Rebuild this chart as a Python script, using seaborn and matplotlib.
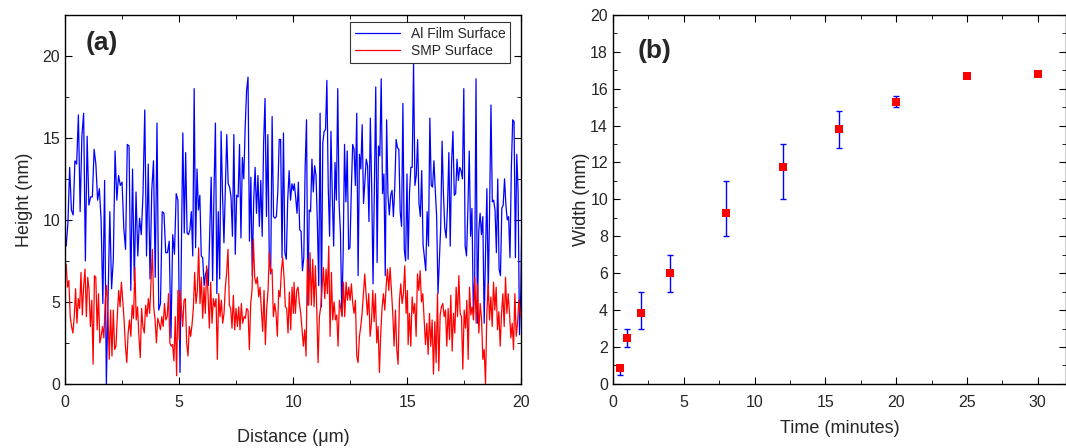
import numpy as np
import pandas as pd
import seaborn as sns
import matplotlib.pyplot as plt
from matplotlib.ticker import MultipleLocator

# ---- panel (a): surface height profiles in 4 pieces ----
# each piece: (start µm, end µm, heights in nm)
al_seg1 = [8.4, 9.8, 13.2, 10.6, 10.3, 13.6, 13.4, 16.4, 10.5, 15.1, 16.5, 7.5, 15.1, 10.9,
           11.4, 11.4, 14.3, 13.4, 11.2, 11.9, 10.0, 4.9, 12.4, 0.0, 5.1, 10.5, 5.8, 7.6, 14.2,
           11.2, 12.7, 12.1, 12.3, 9.5, 8.2, 14.6, 14.5, 5.7, 13.1, 6.3, 11.7, 7.8, 10.1, 9.1,
           11.6, 16.7, 7.8, 13.4, 6.4, 11.8, 13.6, 6.5, 15.9, 4.5, 4.9, 10.5, 10.4, 8.0, 8.0,
           8.7, 2.8, 9.1, 7.9, 11.6, 11.2]
al_seg2 = [0.7, 8.4, 15.3, 9.2, 14.1, 9.2, 9.1, 9.4, 10.5, 7.8, 18.0, 8.3, 13.1, 10.6, 11.5,
           7.8, 7.7, 6.0, 6.7, 7.0, 6.0, 9.4, 12.6, 6.3, 11.8, 15.9, 5.5, 10.5, 6.4, 15.4, 11.6,
           8.6, 12.0, 15.2, 12.2, 12.0, 11.4, 9.0, 15.2, 7.9, 11.5, 11.4, 14.6, 8.9, 13.8, 12.5,
           15.7, 17.9, 18.7, 8.7, 12.6, 6.6, 11.2, 13.2, 10.4, 12.7, 9.6, 12.4, 9.0, 14.7, 17.4,
           10.2, 15.2, 7.6, 6.7, 16.3, 10.2, 10.1, 10.2, 11.7, 14.9, 14.9, 7.7, 15.3, 8.0, 7.6,
           11.2, 13.0, 11.2, 12.2, 11.8]
al_seg3 = [12.2, 11.4, 10.4, 12.3, 9.4, 9.3, 6.9, 7.7, 13.2, 16.1, 4.8, 10.6, 10.5, 13.7, 11.7,
           13.3, 12.7, 9.8, 6.0, 16.5, 4.7, 14.7, 15.4, 15.5, 18.5, 12.0, 9.0, 15.4, 11.4, 8.4,
           13.5, 11.2, 18.0, 11.0, 9.2, 4.2, 8.0, 14.6, 11.1, 14.2, 8.2, 8.3, 11.8, 14.6, 14.3,
           12.1, 16.5, 6.6, 14.0, 13.1, 15.8, 11.0, 12.4, 13.7, 13.3, 9.9, 16.2, 12.0, 6.1, 12.2,
           18.1, 7.4, 14.5, 13.9, 18.6, 11.6, 12.8, 6.6, 16.1, 11.5, 10.3, 11.5, 11.8, 10.2, 12.0,
           14.9, 14.4, 14.3, 10.5, 9.6, 17.1, 8.2, 7.5, 12.8]
al_seg4 = [7.6, 11.6, 13.2, 13.2, 19.5, 12.1, 12.7, 14.9, 11.0, 10.2, 13.0, 8.5, 7.7, 6.9, 10.5,
           8.4, 16.2, 12.1, 12.0, 13.6, 11.8, 10.2, 5.5, 7.6, 9.6, 14.8, 11.6, 9.5, 8.9, 10.8,
           14.1, 8.4, 13.5, 15.4, 11.5, 11.6, 13.7, 12.4, 13.2, 13.0, 12.5, 18.0, 8.4, 7.8, 10.6,
           14.2, 9.0, 10.7, 4.5, 6.4, 18.6, 3.7, 9.3, 10.4, 9.1, 10.2, 3.7, 8.0, 11.9, 5.6, 10.6,
           17.0, 11.1, 11.2, 10.6, 8.0, 12.5, 7.0, 6.6, 10.7, 10.9, 12.5, 10.9, 10.0, 10.2, 7.7,
           13.1, 16.1, 16.0, 7.7, 14.0, 11.7, 3.0, 5.7, 11.7, 13.1]

smp_seg1 = [7.3, 5.9, 6.3, 4.1, 3.5, 3.1, 4.1, 5.8, 3.7, 5.2, 4.6, 6.8, 4.2, 6.0, 7.0, 4.1, 6.5,
            5.7, 3.5, 5.1, 1.2, 6.6, 6.5, 3.3, 5.5, 2.5, 2.9, 3.5, 2.8, 5.1, 6.0, 4.3, 1.5, 4.5,
            1.7, 4.5, 2.1, 2.3, 4.2, 5.7, 4.7, 6.2, 5.1, 3.9, 2.3, 1.3, 3.1, 3.9, 2.9, 4.8, 4.0,
            7.1, 3.9, 4.7, 2.9, 1.6, 4.6, 3.5, 3.1, 4.8, 4.1, 5.2, 4.3, 6.2, 8.2, 4.7, 3.9, 2.5,
            4.0, 3.7, 3.3, 4.1, 3.5, 4.9, 3.9, 4.1, 5.5, 2.5, 2.3, 2.4, 1.4, 4.1, 0.5, 5.7, 2.7]
smp_seg2 = [5.7, 4.7, 3.5, 5.1, 5.2, 2.5, 1.7, 3.5, 2.9, 3.6, 4.6, 6.8, 4.9, 5.7, 8.3, 4.9, 6.5,
            4.0, 5.9, 4.3, 7.2, 5.5, 3.4, 6.2, 3.7, 5.2, 4.7, 5.2, 1.5, 5.5, 4.1, 5.1, 3.7, 4.3,
            5.9, 6.8, 8.2, 4.8, 4.6, 3.4, 5.4, 3.3, 4.6, 3.5, 4.7, 3.3, 4.9, 3.7, 4.1, 4.0, 4.6,
            4.5, 2.1, 4.9, 5.7, 8.8, 6.5, 6.1, 6.5, 5.3, 5.9, 4.6, 3.2, 5.7, 2.4, 4.6, 5.7, 8.0,
            6.8, 7.0, 4.1, 4.9, 4.3, 2.9, 5.7, 5.3, 6.9, 7.7, 6.5, 4.7, 4.6, 3.1, 5.6, 3.3, 5.9,
            4.3]
smp_seg3 = [6.2, 4.3, 5.7, 5.9, 4.9, 4.3, 3.3, 2.3, 3.3, 1.7, 7.6, 4.8, 8.0, 4.8, 7.6, 4.7, 7.2,
            4.6, 1.3, 4.1, 4.7, 5.9, 7.1, 5.2, 7.0, 5.5, 8.4, 2.9, 6.8, 3.9, 5.0, 3.9, 4.2, 2.3,
            5.1, 4.6, 4.1, 6.2, 4.1, 6.2, 5.1, 5.9, 5.1, 6.1, 4.9, 4.3, 5.1, 1.7, 1.3, 2.9, 3.5,
            4.3, 5.5, 6.7, 5.5, 4.2, 5.5, 2.9, 3.7, 5.7, 3.8, 5.5, 2.5, 3.5, 0.7, 3.1, 4.7, 5.5,
            4.5, 5.9, 7.0, 5.7, 7.1, 5.7, 4.3, 2.3, 4.5, 2.1, 1.2, 5.1, 6.1, 4.9, 5.5, 7.2, 4.3,
            5.7]
smp_seg4 = [2.4, 4.3, 2.3, 5.3, 4.3, 4.9, 2.9, 6.7, 5.7, 6.9, 5.0, 5.5, 3.9, 2.4, 3.7, 1.8, 4.3,
            2.3, 3.9, 0.6, 3.8, 1.3, 5.5, 0.8, 4.2, 4.7, 4.9, 4.1, 4.5, 2.3, 4.6, 2.7, 5.4, 2.0,
            4.3, 3.1, 5.9, 4.1, 6.6, 4.3, 4.1, 0.9, 4.5, 3.4, 5.1, 1.5, 5.9, 4.2, 4.7, 3.9, 6.5,
            3.7, 6.1, 3.1, 4.9, 4.0, 1.5, 2.1, 0.0, 4.3, 6.1, 3.9, 5.3, 3.5, 6.2, 4.5, 5.9, 3.3,
            4.4, 2.3, 4.3, 5.5, 3.5, 6.5, 4.3, 5.5, 4.3, 2.8, 3.7, 2.1, 5.5, 2.9, 3.7, 5.1, 4.3,
            4.1, 2.3]

al_pieces = [(0.05, 4.95, al_seg1), (5.04, 10.01, al_seg2),
             (10.05, 14.99, al_seg3), (15.04, 20.1, al_seg4)]
smp_pieces = [(0.05, 5.01, smp_seg1), (5.04, 10.01, smp_seg2),
              (10.04, 15.01, smp_seg3), (15.04, 20.07, smp_seg4)]

# ---- panel (b): width vs time ----
time_min = [0.5, 1, 2, 4, 8, 12, 16, 20, 25, 30]
width_mm = [0.85, 2.5, 3.87, 6.0, 9.25, 11.75, 13.8, 15.25, 16.7, 16.8]
width_lo = [0.5, 2.0, 3.0, 5.0, 8.0, 10.0, 12.8, 15.0, 16.7, 16.8]
width_hi = [1.0, 3.0, 5.0, 7.0, 11.0, 13.0, 14.8, 15.6, 16.7, 16.8]


def pieces_to_frame(pieces, name):
    xs, ys = [], []
    for start, end, vals in pieces:
        xs.extend(np.linspace(start, end, len(vals)))
        ys.extend(vals)
    return pd.DataFrame({'Distance': xs, 'Height': ys, 'Surface': name})


profile = pd.concat([pieces_to_frame(al_pieces, 'Al Film Surface'),
                     pieces_to_frame(smp_pieces, 'SMP Surface')], ignore_index=True)
growth = pd.DataFrame({'Time': time_min, 'Width': width_mm})

sns.set_style('ticks')
plt.rcParams['font.family'] = ['Liberation Sans', 'DejaVu Sans']
plt.rcParams['axes.linewidth'] = 1.0

fig = plt.figure(figsize=(10.66, 4.48), dpi=100)
ax1 = fig.add_axes([0.061, 0.143, 0.428, 0.824])
ax2 = fig.add_axes([0.575, 0.143, 0.425, 0.824])

# (a)
sns.lineplot(data=profile, x='Distance', y='Height', hue='Surface',
             palette={'Al Film Surface': '#0000ff', 'SMP Surface': '#ff0000'},
             estimator=None, sort=False, linewidth=0.9, ax=ax1)
ax1.set_xlim(0, 20)
ax1.set_ylim(0, 22.5)
ax1.xaxis.set_major_locator(MultipleLocator(5))
ax1.xaxis.set_minor_locator(MultipleLocator(2.5))
ax1.yaxis.set_major_locator(MultipleLocator(5))
ax1.yaxis.set_minor_locator(MultipleLocator(2.5))
ax1.set_xlabel('Distance (\u03bcm)', fontsize=13, labelpad=14)
ax1.set_ylabel('Height (nm)', fontsize=13, labelpad=7)
ax1.text(0.045, 0.955, '(a)', transform=ax1.transAxes, fontsize=19,
         fontweight='bold', va='top')
leg = ax1.legend(loc='upper right', frameon=True, fancybox=False, fontsize=10,
                 borderpad=0.35, handlelength=3.2, labelspacing=0.25,
                 borderaxespad=0, bbox_to_anchor=(0.976, 0.981))
leg.get_frame().set_edgecolor('black')
leg.get_frame().set_linewidth(0.8)

# (b)
yerr = [np.array(width_mm) - np.array(width_lo), np.array(width_hi) - np.array(width_mm)]
ax2.errorbar(time_min, width_mm, yerr=yerr, fmt='none', ecolor='#0000ff',
             elinewidth=1.0, capsize=2.2, capthick=1.0, zorder=2)
sns.scatterplot(data=growth, x='Time', y='Width', marker='s', color='#ff0000',
                s=38, edgecolor='#ff0000', linewidth=0, zorder=3, ax=ax2)
ax2.set_xlim(0, 32)
ax2.set_ylim(0, 20)
ax2.xaxis.set_major_locator(MultipleLocator(5))
ax2.xaxis.set_minor_locator(MultipleLocator(2.5))
ax2.yaxis.set_major_locator(MultipleLocator(2))
ax2.yaxis.set_minor_locator(MultipleLocator(1))
ax2.set_xlabel('Time (minutes)', fontsize=13, labelpad=7)
ax2.set_ylabel('Width (mm)', fontsize=13, labelpad=0)
ax2.text(0.055, 0.935, '(b)', transform=ax2.transAxes, fontsize=19,
         fontweight='bold', va='top')

for ax in (ax1, ax2):
    ax.tick_params(which='both', direction='in', top=True, right=True,
                   labelsize=11.5, color='black')
    ax.tick_params(which='major', length=5)
    ax.tick_params(which='minor', length=3)
    ax.tick_params(axis='x', which='major', pad=8)
    for sp in ax.spines.values():
        sp.set_color('black')

fig.savefig('out.png', dpi=100)
